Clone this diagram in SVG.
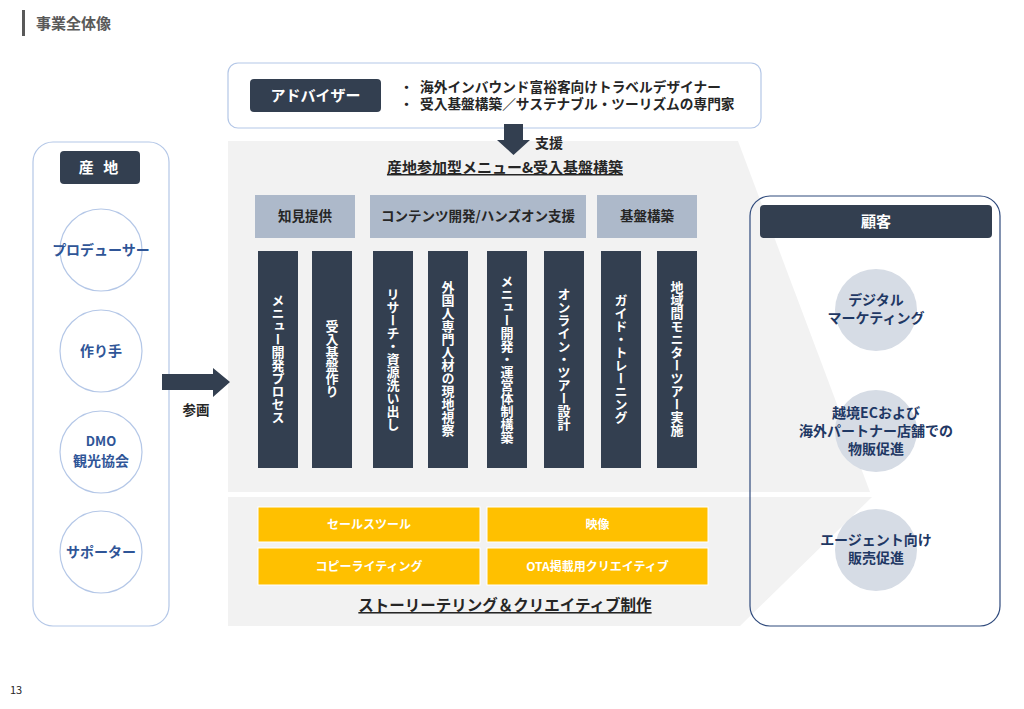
<svg xmlns="http://www.w3.org/2000/svg" width="1024" height="709" viewBox="0 0 1024 709">
<style>
text{font-family:"Noto Sans CJK JP","Noto Sans",sans-serif;font-weight:bold}
.dark{fill:#333f50}
.hdr{fill:#adb9ca}
.wt{fill:#fff}
.blk{fill:#262626}
.blue{fill:#2f5597}
.navy{fill:#1f3864}
.lb{fill:#fff;stroke:#b4c7e7;stroke-width:1.2}
.cc{fill:#d6dce5}
.yel{fill:#ffc000;stroke:#fff;stroke-width:1}
.vt{writing-mode:vertical-rl;text-anchor:middle;font-size:13px;fill:#fff}
.mid{text-anchor:middle}
</style>
<rect width="1024" height="709" fill="#fff"/>
<g id="title">
<rect x="22" y="10" width="3" height="26" fill="#595959"/>
<text x="36" y="29" font-size="15" fill="#595959">事業全体像</text>
</g>
<g id="bg">
<polygon points="228,141 738,141 870,492 228,492" fill="#f2f2f2"/>
<polygon points="228,497 872,497 740,626 228,626" fill="#f2f2f2"/>
</g>
<g id="advisor">
<rect x="228" y="63" width="533" height="65" rx="10" class="lb"/>
<rect x="250" y="79" width="131" height="33" rx="4" class="dark"/>
<text x="315.5" y="101" font-size="15" class="wt mid">アドバイザー</text>
<text x="400" y="92" font-size="13" class="blk">・</text>
<text x="420" y="92" font-size="13.7" class="blk">海外インバウンド富裕客向けトラベルデザイナー</text>
<text x="400" y="109" font-size="13" class="blk">・</text>
<text x="420" y="109" font-size="13.7" class="blk">受入基盤構築／サステナブル・ツーリズムの専門家</text>
</g>
<g id="menu">
<text x="505" y="173" font-size="15" class="blk mid" text-decoration="underline">産地参加型メニュー&amp;受入基盤構築</text>
<rect x="255" y="195" width="100" height="43" class="hdr"/>
<text x="305" y="221" font-size="13.5" class="blk mid">知見提供</text>
<rect x="370" y="195" width="216" height="43" class="hdr"/>
<text x="478" y="221" font-size="13.5" class="blk mid">コンテンツ開発/ハンズオン支援</text>
<rect x="597" y="195" width="100" height="43" class="hdr"/>
<text x="647" y="221" font-size="13.5" class="blk mid">基盤構築</text>
</g>
<g id="bars">
<rect x="258" y="251" width="40" height="217" class="dark"/>
<text x="278" y="359" class="vt">メニュー開発プロセス</text>
<rect x="312" y="251" width="40" height="217" class="dark"/>
<text x="332" y="359" class="vt">受入基盤作り</text>
<rect x="373" y="251" width="40" height="217" class="dark"/>
<text x="393" y="359" class="vt">リサーチ・資源洗い出し</text>
<rect x="428" y="251" width="40" height="217" class="dark"/>
<text x="448" y="359" class="vt">外国人専門人材の現地視察</text>
<rect x="487" y="251" width="40" height="217" class="dark"/>
<text x="507" y="359" class="vt">メニュー開発・運営体制構築</text>
<rect x="544" y="251" width="40" height="217" class="dark"/>
<text x="564" y="359" class="vt">オンライン・ツアー設計</text>
<rect x="601" y="251" width="40" height="217" class="dark"/>
<text x="621" y="359" class="vt">ガイド・トレーニング</text>
<rect x="657" y="251" width="40" height="217" class="dark"/>
<text x="677" y="359" class="vt">地域間モニターツアー実施</text>
</g>
<g id="creative">
<rect x="258" y="507" width="222" height="35" class="yel"/>
<text x="369" y="529" font-size="12" class="wt mid">セールスツール</text>
<rect x="487" y="507" width="221" height="35" class="yel"/>
<text x="597.5" y="529" font-size="12" class="wt mid">映像</text>
<rect x="258" y="548" width="222" height="37" class="yel"/>
<text x="369" y="571" font-size="12" class="wt mid">コピーライティング</text>
<rect x="487" y="548" width="221" height="37" class="yel"/>
<text x="597.5" y="571" font-size="12" class="wt mid">OTA掲載用クリエイティブ</text>
<text x="505" y="611" font-size="15.5" class="blk mid" text-decoration="underline">ストーリーテリング＆クリエイティブ制作</text>
</g>
<g id="origin">
<rect x="33" y="142" width="136" height="484" rx="20" class="lb"/>
<rect x="60" y="151" width="80" height="33" rx="4" class="dark"/>
<text x="100" y="173" font-size="15" class="wt mid" letter-spacing="3">産 地</text>
<circle cx="101" cy="250" r="41" class="lb"/>
<text x="101" y="255" font-size="14" class="blue mid">プロデューサー</text>
<circle cx="101" cy="351" r="41" class="lb"/>
<text x="101" y="356" font-size="14" class="blue mid">作り手</text>
<circle cx="101" cy="452" r="41" class="lb"/>
<text x="101" y="446" font-size="13" class="blue mid">DMO</text>
<text x="101" y="466" font-size="14" class="blue mid">観光協会</text>
<circle cx="101" cy="552" r="41" class="lb"/>
<text x="101" y="557" font-size="14" class="blue mid">サポーター</text>
</g>
<g id="customer">
<rect x="750" y="196" width="250" height="430" rx="20" fill="none" stroke="#2f4a7c" stroke-width="1.2"/>
<rect x="760" y="205" width="232" height="33" rx="4" class="dark"/>
<text x="876" y="227" font-size="15" class="wt mid">顧客</text>
<circle cx="876" cy="310" r="41" class="cc"/>
<text x="876" y="305" font-size="14" class="navy mid">デジタル</text>
<text x="876" y="323" font-size="14" class="navy mid">マーケティング</text>
<circle cx="876" cy="431" r="41" class="cc"/>
<text x="876" y="418" font-size="14" class="navy mid">越境ECおよび</text>
<text x="876" y="436" font-size="14" class="navy mid">海外パートナー店舗での</text>
<text x="876" y="454" font-size="14" class="navy mid">物販促進</text>
<circle cx="876" cy="550" r="41" class="cc"/>
<text x="876" y="545" font-size="14" class="navy mid">エージェント向け</text>
<text x="876" y="563" font-size="14" class="navy mid">販売促進</text>
</g>
<g id="connectors">
<polygon points="504,124 523,124 523,140 530,140 513.5,155 497,140 504,140" class="dark"/>
<text x="535" y="148" font-size="14" class="blk">支援</text>
<polygon points="162,374 213,374 213,368 230,382 213,397 213,390 162,390" class="dark"/>
<text x="196" y="415" font-size="13.5" class="blk mid">参画</text>
</g>
<text x="10" y="694" font-size="11" fill="#262626" style="font-weight:normal">13</text>
</svg>
